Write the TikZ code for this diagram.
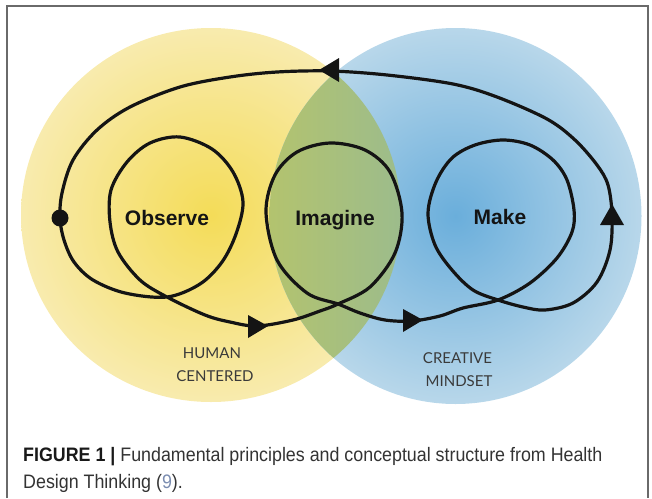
\documentclass[tikz,border=0pt]{standalone}
\usepackage{fontspec}
\setmainfont{Liberation Sans}
\newfontfamily\labfont{Lato}
\newfontfamily\capfont[FakeStretch=0.915]{Liberation Sans}
\usetikzlibrary{calc}
\definecolor{yin}{HTML}{F4DC58}
\definecolor{yout}{HTML}{F8EBAE}
\definecolor{bin}{HTML}{6AAEDB}
\definecolor{bout}{HTML}{B8D7EA}
\definecolor{gleft}{HTML}{B3C36E}
\definecolor{gright}{HTML}{9CBC8C}
\definecolor{ink}{HTML}{141414}
\definecolor{labgray}{HTML}{3A3A3A}
\definecolor{capgray}{HTML}{333333}
\definecolor{citeblue}{HTML}{7A8CB0}
\definecolor{framegray}{HTML}{6A6A6A}
\begin{document}
\begin{tikzpicture}[x=1pt,y=-1pt,
  loopline/.style={draw=ink,line width=3.2pt,line join=round},
  arrowhead/.style={fill=ink},
  stage/.style={anchor=base,inner sep=0pt,text=ink,font=\bfseries\fontsize{21}{25}\selectfont},
  tag/.style={anchor=base,inner sep=0pt,text=labgray,font=\labfont\fontsize{15}{18}\selectfont},
  capline/.style={anchor=base west,inner sep=0pt,text=capgray,font=\capfont\fontsize{19.5}{24}\selectfont}]
\useasboundingbox (0,0) rectangle (652,498);
% frame
\draw[framegray,line width=1.5pt] (7,498) -- (7,6) -- (648,6) -- (648,498);
% circles
\path[inner color=yin,outer color=yout] (211,215) ellipse [x radius=190pt,y radius=187pt];
\path[inner color=bin,outer color=bout] (455.5,216) ellipse [x radius=186pt,y radius=188pt];
\begin{scope}
  \clip (211,215) ellipse [x radius=190pt,y radius=187pt];
  \clip (455.5,216) ellipse [x radius=186pt,y radius=188pt];
  \path[left color=gleft,right color=gright] (268,25) rectangle (403,406);
\end{scope}
% loop path
\draw[loopline] plot[smooth cycle,tension=0.55] coordinates {
 (60,218) (64,240) (74,262) (93,280) (125,293) (167,297) (200,284) (222,262)
 (236,234) (243,202) (233,172) (212,149) (180,137) (150,143) (127,162) (111,190)
 (110,222) (118,252) (140,280) (167,297) (205,315) (230,322) (257,326) (293,320)
 (320,311) (338,304) (370,287) (395,253) (402,213) (390,172) (365,150) (330,143)
 (297,152) (275,175) (266,212) (277,260) (307,293) (338,304) (360,313) (385,320)
 (412,321) (440,316) (463,308) (498,300) (530,283) (557,258) (572,232) (574,210)
 (567,180) (553,160) (530,145) (503,140) (475,145) (452,158) (436,182) (428,213)
 (435,245) (452,270) (473,290) (498,300) (523,307) (545,310) (573,303) (597,282)
 (610,250) (612,215) (608,185) (597,165) (575,140) (547,119) (497,97) (453,84)
 (387,75) (330,71) (277,72) (230,77) (180,87) (130,107) (97,130) (73,160) (62,193)};
% start dot
\fill[ink] (60,218) circle (8.5pt);
% arrowheads
\coordinate (a1) at (268,326);
\fill[arrowhead] (a1) -- (248,315) -- (248,338) -- cycle;
\coordinate (a2) at (423,320);
\fill[arrowhead] (a2) -- (403,309) -- (403,332) -- cycle;
\coordinate (a3) at (612,204);
\fill[arrowhead] (a3) -- (600,225) -- (624,225) -- cycle;
\coordinate (a4) at (319,70);
\fill[arrowhead] (a4) -- (339,58) -- (339,82) -- cycle;
% stage labels
\node[stage] (obs) at (167,225) {Observe};
\node[stage] (ima) at (335,225) {Imagine};
\node[stage] (mak) at (500,224) {Make};
% tags
\node[tag] (hum) at (212,358) {HUMAN};
\node[tag] (cen) at (215,381.5) {CENTERED};
\node[tag] (cre) at (457.5,363) {CREATIVE};
\node[tag] (min) at (459,386.5) {MINDSET};
% caption
\node[capline] (cap1) at (23,461) {{\bfseries\color{black!90}FIGURE 1 |} Fundamental principles and conceptual structure from Health};
\node[capline] (cap2) at (23,488) {Design Thinking ({\color{citeblue}9}).};
\end{tikzpicture}
\end{document}
